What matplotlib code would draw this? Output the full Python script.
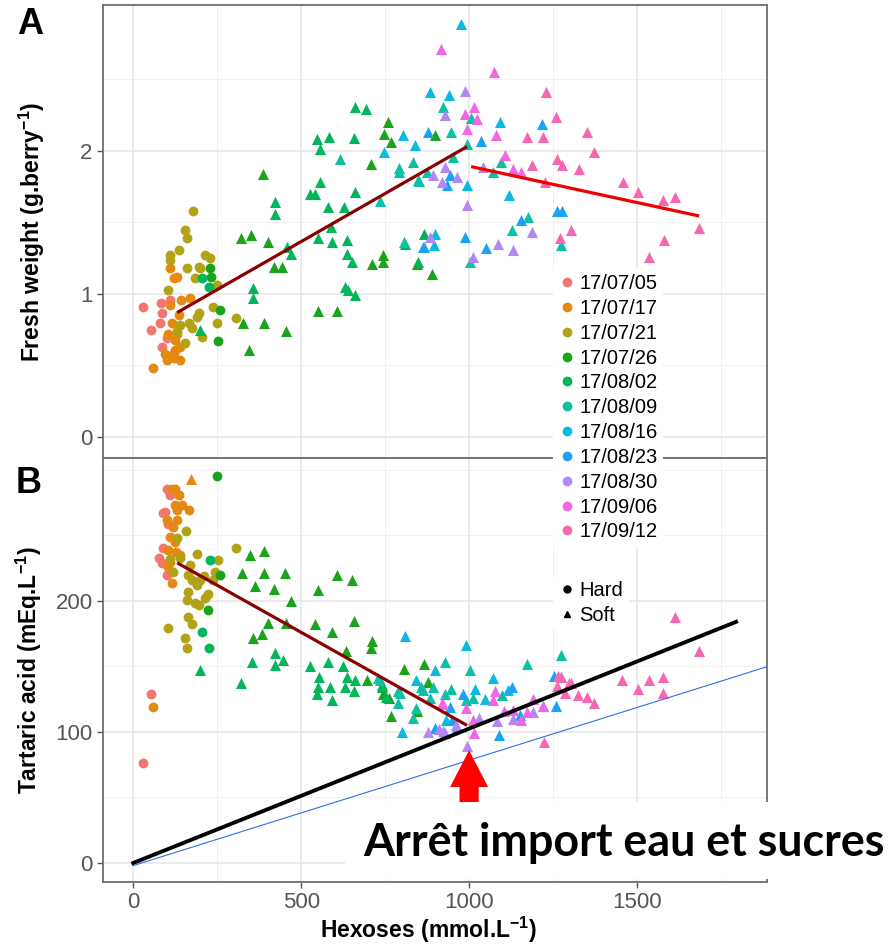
import matplotlib
matplotlib.use("Agg")
import matplotlib.pyplot as plt
from matplotlib.lines import Line2D
from matplotlib.patches import FancyArrow, Rectangle

plt.rcParams['font.family'] = ['Liberation Sans', 'DejaVu Sans']
plt.rcParams['mathtext.fontset'] = 'custom'
plt.rcParams['mathtext.rm'] = 'Liberation Sans:bold'
plt.rcParams['mathtext.default'] = 'rm'

dates = ['17/07/05', '17/07/17', '17/07/21', '17/07/26', '17/08/02', '17/08/09',
         '17/08/16', '17/08/23', '17/08/30', '17/09/06', '17/09/12']
colors = ['#F3766F', '#E48A12', '#B1A315', '#1BA31B', '#00B55A', '#0CC0A4',
          '#0CB9E0', '#1AA3F5', '#B388F5', '#EF66E6', '#F766B0']

# panel A : fresh weight vs hexoses, one sub-list per date
a_hard_x = [
    [30, 54, 83, 86, 86, 80, 110, 101],
    [60, 100, 120, 140, 125, 140, 105, 130, 115, 110, 142, 170, 120, 130, 110, 125, 120, 95, 135],
    [177, 155, 160, 135, 110, 110, 160, 195, 215, 230, 185, 105, 250, 238, 195, 190, 165, 175, 130,
     155, 205, 250, 307, 140, 200],
    [229, 232, 259, 253],
    [205, 226],
    [], [], [], [], [], [],
]
a_hard_y = [
    [0.91, 0.75, 0.94, 0.87, 0.63, 0.80, 0.96, 0.69],
    [0.48, 0.54, 0.55, 0.54, 0.61, 0.63, 0.72, 0.72, 0.80, 0.92, 0.96, 0.97, 1.11, 1.12, 1.18, 0.68, 0.59, 0.58, 0.85],
    [1.58, 1.45, 1.39, 1.31, 1.27, 1.24, 1.18, 1.19, 1.27, 1.25, 1.11, 1.03, 1.06, 0.91, 0.87, 0.84, 0.80, 0.76, 0.74,
     0.66, 0.70, 0.80, 0.83, 0.78, 1.18],
    [1.18, 1.12, 0.89, 0.67],
    [1.11, 1.05],
    [], [], [], [], [], [],
]
a_soft_x = [
    [], [], [],
    [327, 346, 390, 455, 551, 608, 321, 351, 400, 418, 443, 386, 708, 760, 747, 767, 711, 744, 744, 846, 891, 899],
    [199, 358, 358, 423, 423, 458, 470, 631, 640, 659, 636, 652, 810, 867, 551, 593, 636, 589, 581, 628, 527, 542,
     557, 659, 548, 557, 583, 658, 661, 693, 848],
    [616, 735, 790, 834, 849, 923, 946, 994, 792, 851, 1095, 1071, 952, 875, 1176, 1128, 1274, 1003, 807, 1006],
    [803, 747, 839, 884, 899, 976, 940, 1092, 994, 1119, 897],
    [878, 863, 1036, 1217, 943, 935, 1262, 1277, 1155, 1051, 988, 866],
    [893, 920, 884, 929, 988, 1042, 929, 964, 994, 1188, 1086, 1131, 1012],
    [917, 1074, 1015, 988, 1024, 994, 1080, 1107, 1131, 1155],
    [1229, 1259, 1173, 1220, 1188, 1262, 1277, 1226, 1351, 1372, 1327, 1458, 1503, 1577, 1613, 1685, 1580, 1536,
     1304, 1271],
]
a_soft_y = [
    [], [], [],
    [0.80, 0.61, 0.80, 0.74, 0.88, 0.88, 1.39, 1.41, 1.36, 1.19, 1.19, 1.84, 1.91, 2.20, 2.12, 2.06, 1.21, 1.27, 1.22,
     1.21, 1.14, 2.11],
    [0.75, 1.04, 0.97, 1.64, 1.56, 1.33, 1.28, 1.05, 1.03, 0.99, 1.28, 1.22, 1.35, 1.42, 1.39, 1.36, 1.38, 1.47, 1.61,
     1.61, 1.70, 1.70, 1.78, 1.71, 2.08, 2.01, 2.10, 2.09, 2.31, 2.29, 1.22],
    [1.94, 1.65, 1.88, 1.92, 1.80, 2.31, 2.13, 2.05, 1.85, 1.79, 1.92, 1.85, 1.96, 1.85, 1.54, 1.45, 1.34, 1.22, 1.36, 2.23],
    [2.11, 1.99, 2.04, 2.41, 1.42, 2.89, 2.39, 2.20, 1.76, 1.69, 1.34],
    [2.13, 1.33, 2.07, 2.19, 1.83, 1.76, 1.58, 1.58, 1.52, 1.32, 1.40, 1.33],
    [1.83, 1.78, 1.40, 2.25, 2.42, 1.89, 1.89, 1.82, 1.62, 1.43, 1.35, 1.31, 1.26],
    [2.71, 2.55, 2.31, 2.26, 2.22, 2.15, 2.11, 1.97, 1.87, 1.85],
    [2.41, 2.24, 2.10, 2.10, 1.90, 1.94, 1.90, 1.78, 2.13, 1.99, 1.87, 1.78, 1.71, 1.66, 1.68, 1.46, 1.38, 1.26,
     1.45, 1.39],
]

# panel B : tartaric acid vs hexoses
b_hard_x = [
    [101, 110, 89, 89, 77, 86, 101, 104, 54, 30, 95],
    [125, 137, 125, 146, 131, 167, 101, 119, 110, 125, 104, 128, 110, 140, 104, 116, 60, 130, 115],
    [158, 131, 110, 140, 190, 253, 307, 170, 119, 164, 199, 176, 244, 238, 190, 164, 223, 214, 161, 185, 196, 164,
     104, 155, 161, 176, 210],
    [250, 259, 223],
    [229, 205, 226],
    [], [], [], [], [], [],
]
b_hard_y = [
    [285, 281, 267, 240, 233, 229, 220, 259, 129, 76, 268],
    [285, 281, 273, 273, 269, 269, 262, 256, 249, 245, 239, 237, 230, 235, 226, 214, 119, 262, 285],
    [253, 248, 232, 233, 236, 231, 240, 227, 222, 220, 216, 216, 222, 216, 212, 207, 205, 202, 201, 198, 197, 188,
     179, 172, 164, 182, 219],
    [295, 220, 193],
    [231, 176, 164],
    [], [], [], [], [], [],
]
b_soft_x = [
    [],
    [173],
    [],
    [348, 390, 324, 390, 452, 363, 420, 470, 551, 608, 652, 658, 401, 455, 542, 592, 357, 384, 711, 708, 634, 768,
     807, 866, 696, 741, 744, 762, 845, 878],
    [199, 321, 354, 423, 423, 446, 527, 581, 554, 551, 586, 548, 592, 625, 636, 631, 658, 661, 741, 753],
    [735, 789, 789, 834, 842, 863, 893, 929, 884, 1274, 1173, 1003, 729, 1098, 991, 1012, 946, 929, 857, 795],
    [810, 801, 842, 899, 991, 1071, 1116, 1018, 932, 964, 1274, 1048],
    [899, 1128, 982, 943, 949, 1152, 1259, 1253, 1089, 1220],
    [878, 929, 960, 1030, 1083, 1131, 1190, 994, 923, 910],
    [923, 920, 991, 1012, 1077, 1071, 1104, 1131, 1155, 1173, 1190, 1220, 1015],
    [1262, 1265, 1298, 1286, 1324, 1351, 1372, 1304, 1274, 1613, 1685, 1455, 1503, 1536, 1577, 1577, 1223],
]
b_soft_y = [
    [],
    [293],
    [],
    [235, 238, 221, 221, 221, 211, 209, 200, 208, 220, 216, 185, 183, 183, 182, 176, 172, 175, 169, 164, 162, 112,
     148, 152, 140, 136, 129, 126, 116, 138],
    [147, 137, 153, 160, 151, 155, 150, 153, 142, 134, 134, 129, 124, 150, 142, 134, 131, 140, 134, 127],
    [140, 122, 131, 111, 118, 132, 134, 153, 126, 159, 152, 147, 141, 128, 124, 126, 133, 129, 134, 130],
    [173, 100, 140, 147, 166, 141, 132, 133, 109, 104, 142, 125],
    [103, 134, 129, 119, 109, 113, 120, 143, 98, 120],
    [100, 99, 105, 111, 108, 110, 115, 89, 101, 102],
    [121, 122, 118, 109, 131, 124, 116, 117, 109, 115, 125, 120, 99],
    [135, 143, 137, 130, 128, 127, 122, 137, 142, 188, 162, 140, 133, 140, 142, 130, 92],
]

# fitted segments (endpoints)
a_fit1_x, a_fit1_y = [131, 994], [0.87, 2.03]
a_fit2_x, a_fit2_y = [1006, 1685], [1.89, 1.545]
b_fit_x, b_fit_y = [131, 994], [229, 105]
black_x, black_y = [0, 1795], [0, 184]
blue_x, blue_y = [0, 1890], [-2, 150]

fig = plt.figure(figsize=(8.93, 9.46), dpi=100)
W, H = 893, 946
axA = fig.add_axes([103 / W, 1 - 458 / H, 664 / W, 453 / H])
axB = fig.add_axes([103 / W, 1 - 882 / H, 664 / W, 424 / H])

ms = 50
for i in range(len(dates)):
    axA.scatter(a_hard_x[i], a_hard_y[i], s=ms, marker='o', color=colors[i], linewidths=0, zorder=3)
    axA.scatter(a_soft_x[i], a_soft_y[i], s=ms + 14, marker='^', color=colors[i], linewidths=0, zorder=3)
    axB.scatter(b_hard_x[i], b_hard_y[i], s=ms, marker='o', color=colors[i], linewidths=0, zorder=3)
    axB.scatter(b_soft_x[i], b_soft_y[i], s=ms + 14, marker='^', color=colors[i], linewidths=0, zorder=3)

axA.plot(a_fit1_x, a_fit1_y, color='#8B0000', lw=2.3, zorder=4, solid_capstyle='butt')
axA.plot(a_fit2_x, a_fit2_y, color='#EE0000', lw=2.3, zorder=4, solid_capstyle='butt')
axB.plot(b_fit_x, b_fit_y, color='#8B0000', lw=2.3, zorder=4, solid_capstyle='butt')
axB.plot(black_x, black_y, color='black', lw=2.8, zorder=5)
axB.plot(blue_x, blue_y, color='#2F6FE0', lw=0.8, zorder=5)

# red arrow pointing at the break
axB.add_patch(FancyArrow(1000, 20, 0, 66, width=57, head_width=113, head_length=28,
                         length_includes_head=True, color='#FF0000', lw=0, zorder=6))

for ax in (axA, axB):
    ax.set_xlim(-90, 1887)
    ax.set_xticks([0, 500, 1000, 1500])
    ax.set_xticks([250, 750, 1250, 1750], minor=True)
    ax.grid(which='major', color='#E6E6E6', lw=1.1)
    ax.grid(which='minor', color='#F0F0F0', lw=0.7)
    ax.set_axisbelow(True)
    for sp in ax.spines.values():
        sp.set_color('#6E6E6E')
        sp.set_linewidth(1.3)
    ax.tick_params(which='major', length=4, width=1, color='#555555', labelcolor='#555555', labelsize=16)
    ax.tick_params(which='minor', length=0)

axA.set_ylim(-0.147, 3.02)
axA.set_yticks([0, 1, 2])
axA.set_yticks([0.5, 1.5, 2.5], minor=True)
axA.tick_params(axis='x', labelbottom=False, length=0)
axB.set_ylim(-14.5, 309)
axB.set_yticks([0, 100, 200])
axB.set_yticks([50, 150, 250, 300], minor=True)

axA.set_ylabel('Fresh weight (g.berry$^{-1}$)', fontsize=16.5, fontweight='bold', va='center')
axA.yaxis.set_label_coords(-0.107, 0.5)
axB.set_ylabel('Tartaric acid (mEq.L$^{-1}$)', fontsize=16.5, fontweight='bold', va='center')
axB.yaxis.set_label_coords(-0.111, 0.5)
axB.set_xlabel('Hexoses (mmol.L$^{-1}$)', fontsize=16.5, fontweight='bold', va='center')
axB.xaxis.set_label_coords(0.49, -0.113)

fig.text(17 / W, 1 - 24 / H, 'A', fontsize=26, fontweight='bold', va='center')
fig.text(16 / W, 1 - 483 / H, 'B', fontsize=26, fontweight='bold', va='center')

# legends
col_handles = [Line2D([], [], marker='o', ls='', color=c, markersize=6) for c in colors]
leg1 = fig.legend(col_handles, dates, loc='upper left', bbox_to_anchor=(553 / W, 1 - 268 / H),
                  fontsize=14.5, frameon=True, facecolor='white', edgecolor='none', framealpha=1,
                  labelspacing=0.29, handlelength=0.8, handletextpad=0.2, borderpad=0.3, borderaxespad=0)
shape_handles = [Line2D([], [], marker='o', ls='', color='black', markersize=5),
                 Line2D([], [], marker='^', ls='', color='black', markersize=5)]
leg2 = fig.legend(shape_handles, ['Hard', 'Soft'], loc='upper left', bbox_to_anchor=(553 / W, 1 - 575 / H),
                  fontsize=14.5, frameon=True, facecolor='white', edgecolor='none', framealpha=1,
                  labelspacing=0.29, handlelength=0.8, handletextpad=0.2, borderpad=0.3, borderaxespad=0)

# overlaid annotation
fig.add_artist(Rectangle((345 / W, 1 - 879 / H), (W - 345) / W, 77 / H, transform=fig.transFigure,
                         facecolor='white', edgecolor='none', zorder=10))
fig.text(363 / W, 1 - 843 / H, 'Arrêt import eau et sucres', fontsize=32.3, fontweight='bold',
         family=['Lato', 'DejaVu Sans'], va='center', ha='left', zorder=11)

fig.savefig('out.png', dpi=100)
